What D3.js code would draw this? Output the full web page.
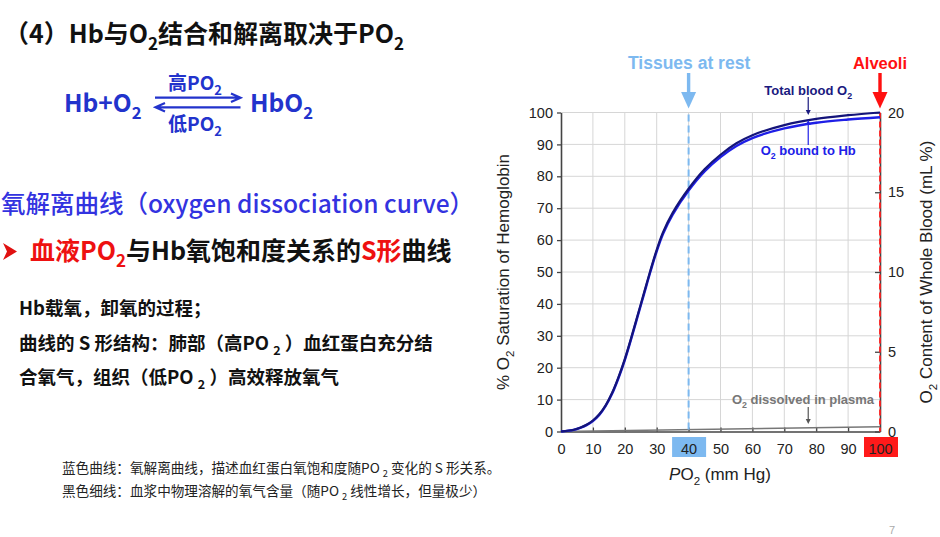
<!DOCTYPE html>
<html>
<head>
<meta charset="utf-8">
<script src="https://cdn.jsdelivr.net/npm/d3@7"></script>
<style>
  body { margin: 0; background: #fff; }
  svg { display: block; }
</style>
</head>
<body>
<script>
// oxygen dissociation curve
const po2 = [0, 4, 6, 8, 10, 12, 14, 16, 18, 20, 22, 24, 26, 28, 30, 32, 35, 40, 45, 50, 55, 60, 70, 80, 90, 100]
// % saturation of hemoglobin
const hbSat = [0, 0.5, 1.1, 2, 3.3, 5.2, 8, 11.8, 16.7, 22.4, 29, 36, 43, 50, 56.5, 62, 68, 75.5, 81.5, 86, 89.5, 92, 95, 96.8, 97.8, 98.5]
// total blood O2 content, mL O2 / 100 mL blood
const totalMl = [0, 0.11, 0.24, 0.42, 0.69, 1.08, 1.64, 2.41, 3.39, 4.54, 5.87, 7.27, 8.68, 10.08, 11.39, 12.5, 13.71, 15.22, 16.44, 17.35, 18.07, 18.58, 19.21, 19.6, 19.83, 20]
// O2 dissolved in plasma, mL / 100 mL
const plasmaPo2 = [0, 100]
const plasmaMl = [0, 0.3]

const xTicks = [0, 10, 20, 30, 40, 50, 60, 70, 80, 90, 100]
const yTicks = [0, 10, 20, 30, 40, 50, 60, 70, 80, 90, 100]
const rTicks = [0, 5, 10, 15, 20]
const tissuePo2 = 40
const alveoliPo2 = 100

const width = 940
const height = 537
const cjk = '"Noto Sans CJK SC", "Noto Sans", sans-serif'
const sans = '"Liberation Sans", Arial, sans-serif'

const svg = d3.select("body").append("svg")
    .attr("width", width)
    .attr("height", height)

svg.append("rect").attr("width", width).attr("height", height).attr("fill", "#fff")

// text with subscripts: parts = [text, color, sub, italic]
function rich(g, x, y, size, weight, parts, family) {
    const t = g.append("text")
        .attr("x", x).attr("y", y)
        .attr("font-size", size)
        .attr("font-weight", weight)
        .attr("font-family", family || cjk)
    let shifted = false
    parts.forEach(p => {
        const s = t.append("tspan").text(p[0]).attr("fill", p[1])
        if (p[2] && !shifted) { s.attr("dy", size * 0.28).attr("font-size", size * 0.68); shifted = true }
        else if (p[2]) { s.attr("font-size", size * 0.68) }
        else if (shifted) { s.attr("dy", -size * 0.28); shifted = false }
        if (p[3]) s.attr("font-style", "italic")
    })
    return t
}

// ---- left side slide text
const blue = "#2233cc"
const txt = svg.append("g")

rich(txt, 4, 43, 25, 700, [["（4）Hb与O", "#111"], ["2", "#111", 1], ["结合和解离取决于PO", "#111"], ["2", "#111", 1]])

rich(txt, 64, 112, 24.5, 700, [["Hb+O", blue], ["2", blue, 1]])
rich(txt, 250, 112, 24.5, 700, [["HbO", blue], ["2", blue, 1]])
rich(txt, 168, 90, 19, 700, [["高PO", blue], ["2", blue, 1]])
rich(txt, 168, 131, 19, 700, [["低PO", blue], ["2", blue, 1]])

// equilibrium arrows
txt.append("path")
    .attr("d", "M155,97.7H238M231,93.5L240.5,97.7L231,101.9")
    .attr("stroke", blue).attr("stroke-width", 2.2).attr("fill", "none")
txt.append("path")
    .attr("d", "M240.5,107.3H158M165,103.1L155.5,107.3L165,111.5")
    .attr("stroke", blue).attr("stroke-width", 2.2).attr("fill", "none")

rich(txt, 1, 213, 24.5, 500, [["氧解离曲线（oxygen dissociation curve）", "#3333e0"]])

txt.append("path")
    .attr("d", "M3,243L17,251.5L3,260L7,251.5Z")
    .attr("fill", "#e01010")
rich(txt, 30, 260, 25, 700, [["血液PO", "#ee1111"], ["2", "#ee1111", 1], ["与Hb氧饱和度关系的", "#111"], ["S形", "#ee1111"], ["曲线", "#111"]])

rich(txt, 19, 315, 18.5, 700, [["Hb载氧，卸氧的过程；", "#111"]])
rich(txt, 19, 350, 18.5, 700, [["曲线的 S 形结构：肺部（高PO ", "#111"], ["2", "#111", 1], [" ）血红蛋白充分结", "#111"]])
rich(txt, 19, 384, 18.5, 700, [["合氧气，组织（低PO ", "#111"], ["2", "#111", 1], [" ）高效释放氧气", "#111"]])

rich(txt, 62, 473, 13.6, 400, [["蓝色曲线：氧解离曲线，描述血红蛋白氧饱和度随PO ", "#222"], ["2", "#222", 1], [" 变化的 S 形关系。", "#222"]])
rich(txt, 62, 496, 13.6, 400, [["黑色细线：血浆中物理溶解的氧气含量（随PO ", "#222"], ["2", "#222", 1], [" 线性增长，但量极少）", "#222"]])

svg.append("text")
    .attr("x", 889).attr("y", 534)
    .attr("font-size", 11).attr("font-family", sans)
    .attr("fill", "#aaa")
    .text("7")

// ---- chart
const x = d3.scaleLinear().domain([0, 100]).range([561, 880])
const yL = d3.scaleLinear().domain([0, 100]).range([431.5, 112.5])
const yR = d3.scaleLinear().domain([0, 20]).range([431.5, 112.5])

const chart = svg.append("g").attr("font-family", sans)

// grid
chart.append("g")
    .attr("stroke", "#d6d6d6").attr("stroke-width", 1)
    .selectAll("line")
    .data(xTicks.filter(d => d > 0 && d < 100))
    .join("line")
    .attr("x1", d => x(d)).attr("x2", d => x(d))
    .attr("y1", yL(100)).attr("y2", yL(0))
chart.append("g")
    .attr("stroke", "#d6d6d6").attr("stroke-width", 1)
    .selectAll("line")
    .data(yTicks.filter(d => d > 0))
    .join("line")
    .attr("x1", x(0)).attr("x2", x(100))
    .attr("y1", d => yL(d)).attr("y2", d => yL(d))

// label highlight boxes
chart.append("rect")
    .attr("x", x(tissuePo2) - 16.5).attr("y", 437).attr("width", 34).attr("height", 20)
    .attr("fill", "#7db9f0")
chart.append("rect")
    .attr("x", x(alveoliPo2) - 16).attr("y", 437).attr("width", 34).attr("height", 20)
    .attr("fill", "#ff1a1a")

// axes
const xAxis = chart.append("g")
    .attr("transform", `translate(0,${yL(0)})`)
    .call(d3.axisBottom(x).tickValues(xTicks).tickSize(-4).tickSizeOuter(0).tickPadding(12))
const yAxis = chart.append("g")
    .attr("transform", `translate(${x(0)},0)`)
    .call(d3.axisLeft(yL).tickValues(yTicks).tickSize(4).tickSizeOuter(0).tickPadding(4))
const rAxis = chart.append("g")
    .attr("transform", `translate(${x(100)},0)`)
    .call(d3.axisRight(yR).tickValues(rTicks).tickSize(-5).tickSizeOuter(0).tickPadding(8))

;[xAxis, yAxis, rAxis].forEach(a => {
    a.attr("font-family", sans).attr("font-size", 14.5)
    a.select(".domain").attr("stroke", "#444").attr("stroke-width", 1.6)
    a.selectAll(".tick line").attr("stroke", "#444").attr("stroke-width", 1.3)
    a.selectAll(".tick text").attr("fill", "#222")
})
xAxis.selectAll(".tick").filter(d => d === 0 || d === 100).select("line").remove()

// dissolved in plasma
chart.append("path")
    .datum(plasmaPo2.map((d, i) => [d, plasmaMl[i]]))
    .attr("fill", "none").attr("stroke", "#777").attr("stroke-width", 1.5)
    .attr("d", d3.line().x(d => x(d[0])).y(d => yR(d[1])))

// reference lines
chart.append("line")
    .attr("x1", x(tissuePo2)).attr("x2", x(tissuePo2))
    .attr("y1", yL(100) + 2).attr("y2", yL(0))
    .attr("stroke", "#7db9f0").attr("stroke-width", 2).attr("stroke-dasharray", "7,4")
chart.append("line")
    .attr("x1", x(alveoliPo2)).attr("x2", x(alveoliPo2))
    .attr("y1", yL(100)).attr("y2", yL(0))
    .attr("stroke", "#ff2020").attr("stroke-width", 1.8).attr("stroke-dasharray", "6,3")

// curves
const curve = d3.curveCatmullRom
chart.append("path")
    .datum(po2.map((d, i) => [d, hbSat[i]]))
    .attr("fill", "none").attr("stroke", "#1f1fe6").attr("stroke-width", 2.4)
    .attr("d", d3.line().curve(curve).x(d => x(d[0])).y(d => yL(d[1])))
chart.append("path")
    .datum(po2.map((d, i) => [d, totalMl[i]]))
    .attr("fill", "none").attr("stroke", "#14147a").attr("stroke-width", 2.2)
    .attr("d", d3.line().curve(curve).x(d => x(d[0])).y(d => yR(d[1])))

// big arrows above
function bigArrow(cx, color) {
    chart.append("rect").attr("x", cx - 1.7).attr("y", 73).attr("width", 3.4).attr("height", 21).attr("fill", color)
    chart.append("path")
        .attr("d", `M${cx - 7.5},92L${cx + 7.5},92L${cx},108.5Z`)
        .attr("fill", color)
}
bigArrow(x(tissuePo2), "#7db9f0")
bigArrow(x(alveoliPo2), "#ff1010")

chart.append("text")
    .attr("x", x(tissuePo2) + 0.5).attr("y", 69)
    .attr("text-anchor", "middle").attr("font-size", 17.5).attr("font-weight", 700)
    .attr("fill", "#7db9f0").text("Tissues at rest")
chart.append("text")
    .attr("x", 880).attr("y", 69)
    .attr("text-anchor", "middle").attr("font-size", 16.5).attr("font-weight", 700)
    .attr("fill", "#ff1010").text("Alveoli")

// small labelled arrows
function smallArrow(cx, y1, y2, color) {
    const dir = y2 > y1 ? 1 : -1
    chart.append("line").attr("x1", cx).attr("x2", cx).attr("y1", y1).attr("y2", y2 - dir * 3)
        .attr("stroke", color).attr("stroke-width", 1.2)
    chart.append("path")
        .attr("d", `M${cx - 2.5},${y2 - dir * 5}L${cx + 2.5},${y2 - dir * 5}L${cx},${y2}Z`)
        .attr("fill", color)
}
const lblX = x(77.5)
rich(chart, lblX, 95, 13, 700, [["Total blood O", "#1a1a80"], ["2", "#1a1a80", 1]], sans).attr("text-anchor", "middle")
smallArrow(lblX, 97, 115, "#1a1a80")
rich(chart, lblX, 155, 13, 700, [["O", "#2020e8"], ["2", "#2020e8", 1], [" bound to Hb", "#2020e8"]], sans).attr("text-anchor", "middle")
smallArrow(lblX, 145, 120, "#2020e8")
rich(chart, 803, 404, 13, 700, [["O", "#777"], ["2", "#777", 1], [" dissolved in plasma", "#777"]], sans).attr("text-anchor", "middle")
smallArrow(lblX, 407, 424, "#555")

// axis titles
rich(chart, 720, 480, 17, 400, [["P", "#222", 0, 1], ["O", "#222"], ["2", "#222", 1], [" (mm Hg)", "#222"]], sans).attr("text-anchor", "middle")
rich(chart, 0, 0, 17, 400, [["% O", "#222"], ["2", "#222", 1], [" Saturation of Hemoglobin", "#222"]], sans)
    .attr("text-anchor", "middle")
    .attr("transform", "translate(509,272) rotate(-90)")
rich(chart, 0, 0, 17, 400, [["O", "#222"], ["2", "#222", 1], [" Content of Whole Blood (mL %)", "#222"]], sans)
    .attr("text-anchor", "middle")
    .attr("transform", "translate(932,272) rotate(-90)")
</script>
</body>
</html>
